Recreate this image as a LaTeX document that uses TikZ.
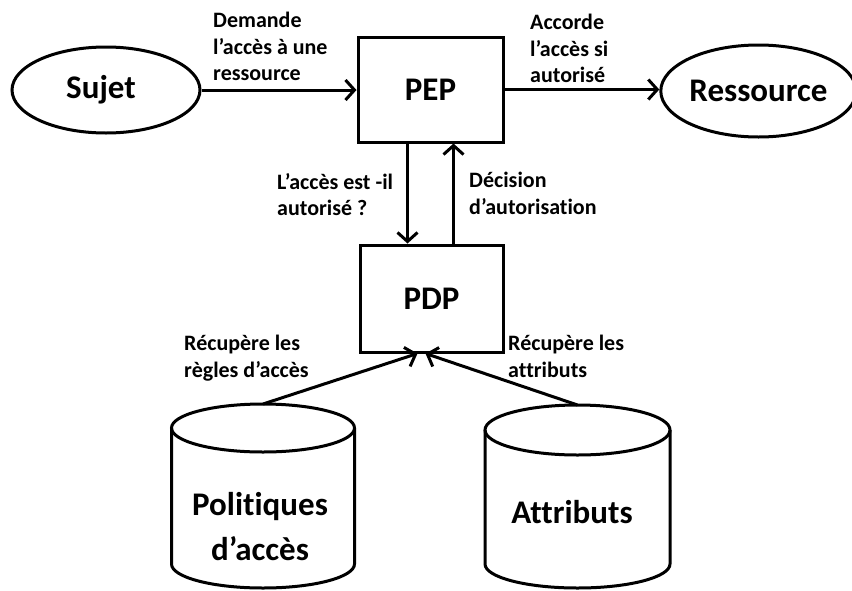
\documentclass[tikz,border=0pt]{standalone}
\usepackage{fontspec}
\setmainfont{Carlito}[Ligatures=NoCommon]
\usetikzlibrary{arrows.meta,shapes.geometric,calc}

\tikzset{
  big/.style={font=\bfseries\fontsize{33}{45}\selectfont, align=center},
  lbl/.style={font=\bfseries\fontsize{22}{26.5}\selectfont, align=left, anchor=north west, inner sep=0pt},
  oval/.style={ellipse, draw, line width=3pt, inner sep=0pt, big},
  boxnode/.style={rectangle, draw, line width=3pt, inner sep=0pt, big},
  link/.style={line width=3pt, -{Straight Barb[length=9pt,width=20pt,line width=3pt]}},
  dbline/.style={line width=3pt},
}

\begin{document}
\begin{tikzpicture}[x=1pt, y=-1pt]
\useasboundingbox (0,0) rectangle (852,590);

% main entities
\node[oval, minimum width=188pt, minimum height=86pt] (sujet) at (106,90) {\hspace*{-10pt}Sujet};
\node[boxnode, minimum width=145pt, minimum height=105pt] (pep) at (430.5,89.5) {PEP};
\node[oval, minimum width=181pt, minimum height=92pt] (res) at (758.5,91) {Ressource};
\node[boxnode, minimum width=143pt, minimum height=107pt] (pdp) at (431.5,298.5) {PDP};

% databases drawn as cylinders
\draw[dbline] (263,428) ellipse [x radius=91.5pt, y radius=24pt];
\draw[dbline] (171.5,428) -- (171.5,564) arc[start angle=180, end angle=360, x radius=91.5pt, y radius=24pt] -- (354.5,428);
\coordinate (poltop) at (263,404);
\node[big] (pol) at (260,527) {Politiques\\d’accès};

\draw[dbline] (577.5,430) ellipse [x radius=92.5pt, y radius=25pt];
\draw[dbline] (485,430) -- (485,564) arc[start angle=180, end angle=360, x radius=92.5pt, y radius=24pt] -- (670,430);
\coordinate (atttop) at (577.5,405);
\node[big] (att) at (572,512) {Attributs};

% connectors
\draw[link] (sujet.east) -- (sujet.east -| pep.west);
\draw[link] (pep.east) -- (pep.east -| res.west);
\draw[link] ([xshift=-23pt]pep.south) -- ([xshift=-23pt]pep.south |- pdp.north);
\draw[link] ([xshift=22pt]pdp.north) -- ([xshift=22pt]pdp.north |- pep.south);
\draw[link] (poltop) -- ([xshift=-14pt]pdp.south);
\draw[link] (atttop) -- ([xshift=-6pt]pdp.south);

% connector labels
\node[lbl] (l1) at (213,12) {Demande\\l’accès à une\\ressource};
\node[lbl] (l2) at (530,14) {Accorde\\l’accès si\\autorisé};
\node[lbl] (l3) at (277,173) {L’accès est -il\\autorisé ?};
\node[lbl] (l4) at (469,172) {Décision\\d’autorisation};
\node[lbl] (l5) at (184,335) {Récupère les\\règles d’accès};
\node[lbl] (l6) at (508,335) {Récupère les\\attributs};
\end{tikzpicture}
\end{document}
